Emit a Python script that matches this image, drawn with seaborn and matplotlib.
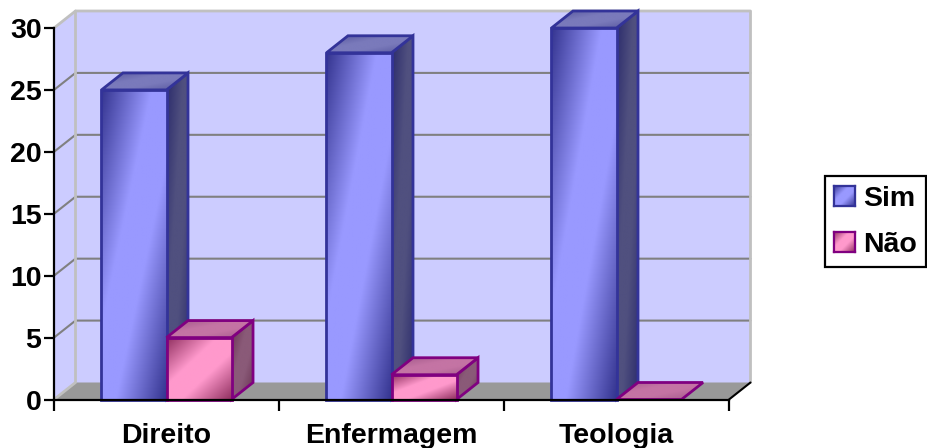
import numpy as np
import pandas as pd
import seaborn as sns
import matplotlib.pyplot as plt
from matplotlib.patches import Patch, Polygon
from matplotlib.colors import to_rgb

cursos = ["Direito", "Enfermagem", "Teologia"]
sim = [25, 28, 30]
nao = [5, 2, 0]
y_ticks = [0, 5, 10, 15, 20, 25, 30]

df = pd.DataFrame({
    "curso": cursos * 2,
    "valor": sim + nao,
    "serie": ["Sim"] * 3 + ["Não"] * 3,
})

sns.set_theme(style="white")
plt.rcParams["font.family"] = ["Liberation Sans", "DejaVu Sans"]
plt.rcParams["font.weight"] = "bold"

W, H = 927, 448
fig = plt.figure(figsize=(W / 100, H / 100), dpi=100)
ax = fig.add_axes([54 / W, (H - 399.5) / H, 675 / W, 371.5 / H])

sns.barplot(data=df, x="curso", y="valor", hue="serie", hue_order=["Sim", "Não"],
            palette=["#9999ff", "#ff99cc"], width=0.578, gap=0, legend=False,
            saturation=1, ax=ax)
ax.set_xlim(-0.5, 2.5)
ax.set_ylim(0, 30)
ax.set_xlabel("")
ax.set_ylabel("")

# profundidade do efeito 3D, em unidades dos dados
dx = 21.5 / 225
dy = 17 / (371.5 / 30)

front_cols = {0: ("#34348f", "#9999ff"), 1: ("#8f2f5f", "#ff99cc")}
side_cols = {0: ("#2c2c6c", "#50507f"), 1: ("#66304f", "#8a5a78")}
top_cols = {0: ("#55559c", "#7a7abb"), 1: ("#a05888", "#c474a4")}
edge_cols = {0: "#333399", 1: "#800080"}


def gradient(dark, light, n=80):
    u, v = np.meshgrid(np.linspace(0, 1, n), np.linspace(0, 1, n))
    t = 1 - np.abs(u + v - 1)
    t = np.clip(t * 1.3, 0, 1)[..., None]
    return np.array(to_rgb(dark)) * (1 - t) + np.array(to_rgb(light)) * t


def fill_poly(verts, dark, light, edge, z):
    verts = np.array(verts)
    poly = Polygon(verts, closed=True, transform=ax.transData)
    ext = [verts[:, 0].min(), verts[:, 0].max(), verts[:, 1].min(), verts[:, 1].max()]
    im = ax.imshow(gradient(dark, light), extent=ext, origin="upper", aspect="auto", zorder=z)
    im.set_clip_box(fig.bbox)
    im.set_clip_path(poly)
    ax.add_patch(Polygon(verts, closed=True, fc="none", ec=edge, lw=2,
                         joinstyle="miter", clip_on=False, zorder=z + 0.01))


# paredes e chão
x0, x1 = -0.5, 2.5
y_top = 30
ax.add_patch(Polygon([(x0, 0), (x0 + dx, dy), (x0 + dx, y_top + dy), (x0, y_top)],
                     fc="#ccccff", ec="none", clip_on=False, zorder=0.1))
ax.add_patch(Polygon([(x0 + dx, dy), (x1 + dx, dy), (x1 + dx, y_top + dy), (x0 + dx, y_top + dy)],
                     fc="#ccccff", ec="none", clip_on=False, zorder=0.1))
ax.add_patch(Polygon([(x0, 0), (x1, 0), (x1 + dx, dy), (x0 + dx, dy)],
                     fc="#999999", ec="none", clip_on=False, zorder=0.1))
for v in y_ticks[1:-1]:
    ax.plot([x0, x0 + dx, x1 + dx], [v, v + dy, v + dy], color="#808080", lw=1.5,
            clip_on=False, zorder=0.2)
ax.plot([x0, x0 + dx, x1 + dx, x1 + dx], [y_top, y_top + dy, y_top + dy, dy],
        color="#c0c0c0", lw=2, clip_on=False, zorder=0.3)
ax.plot([x0, x0 + dx, x0 + dx], [0, dy, y_top + dy], color="#c0c0c0", lw=2,
        clip_on=False, zorder=0.3)
ax.plot([x1, x1 + dx], [0, dy], color="black", lw=1.5, clip_on=False, zorder=0.3)

# barras
z = 2
for s, cont in enumerate(ax.containers):
    for bar in cont:
        xa, w, h = bar.get_x(), bar.get_width(), bar.get_height()
        xb = xa + w
        if h > 0:
            fill_poly([(xb, 0), (xb + dx, dy), (xb + dx, h + dy), (xb, h)],
                      side_cols[s][0], side_cols[s][1], edge_cols[s], z)
        fill_poly([(xa, h), (xb, h), (xb + dx, h + dy), (xa + dx, h + dy)],
                  top_cols[s][0], top_cols[s][1], edge_cols[s], z + 0.1)
        if h > 0:
            fill_poly([(xa, 0), (xb, 0), (xb, h), (xa, h)],
                      front_cols[s][0], front_cols[s][1], edge_cols[s], z + 0.2)
        bar.set_visible(False)
        z += 1

ax.set_xlim(-0.5, 2.5)
ax.set_ylim(0, 30)

sns.despine(ax=ax)
for side in ["left", "bottom"]:
    ax.spines[side].set_color("black")
    ax.spines[side].set_linewidth(1.6)
    ax.spines[side].set_zorder(50)

ax.set_yticks(y_ticks)
ax.set_xticks([0, 1, 2], cursos)
ax.set_xticks([-0.5, 0.5, 1.5, 2.5], minor=True)
ax.tick_params(axis="y", left=True, length=7, width=1.6, color="black", labelsize=20.5, pad=2)
ax.tick_params(axis="x", which="major", bottom=False, length=0, labelsize=20.5, pad=17)
ax.tick_params(axis="x", which="minor", bottom=True, length=8, width=1.6, color="black")
for lab in ax.get_xticklabels() + ax.get_yticklabels():
    lab.set_color("black")
    lab.set_fontweight("bold")

handles = [Patch(fc="#9999ff", ec="#333399", lw=1.5), Patch(fc="#ff99cc", ec="#800080", lw=1.5)]
leg = fig.legend(handles, ["Sim", "Não"], loc="center left",
                 bbox_to_anchor=(825 / W, (H - 224) / H, 101 / W, 0.01), mode="expand",
                 borderaxespad=0, frameon=True, fancybox=False, edgecolor="black",
                 framealpha=1, fontsize=20.5, handlelength=0.72, handleheight=0.72,
                 handletextpad=0.28, labelspacing=0.7, borderpad=0.33)
leg.get_frame().set_linewidth(1.6)
for t in leg.get_texts():
    t.set_color("black")
    t.set_fontweight("bold")

# gradiente dentro das caixinhas da legenda
fig.canvas.draw()
for i, p in enumerate(leg.get_patches()):
    box = p.get_window_extent().transformed(fig.transFigure.inverted())
    lax = fig.add_axes([box.x0, box.y0, box.width, box.height], zorder=60)
    lax.imshow(gradient(front_cols[i][0], front_cols[i][1]), aspect="auto")
    lax.set_xticks([])
    lax.set_yticks([])
    for sp in lax.spines.values():
        sp.set_color(edge_cols[i])
        sp.set_linewidth(1.6)

fig.savefig("out.png", dpi=100)
